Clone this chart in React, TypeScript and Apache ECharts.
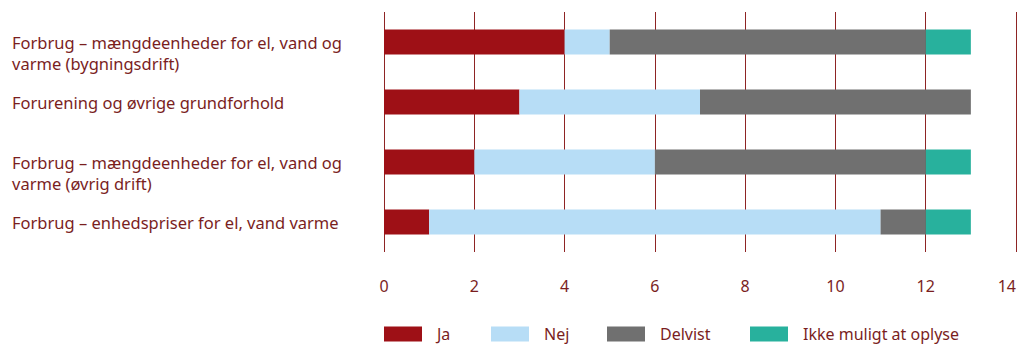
import React, { useEffect, useRef } from "react";
import * as echarts from "echarts";

const categories = [
  "Forbrug – mængdeenheder for el, vand og varme (bygningsdrift)",
  "Forurening og øvrige grundforhold",
  "Forbrug – mængdeenheder for el, vand og varme (øvrig drift)",
  "Forbrug – enhedspriser for el, vand varme",
];
const seriesNames = ["Ja", "Nej", "Delvist", "Ikke muligt at oplyse"];
const jaValues = [4, 3, 2, 1];
const nejValues = [1, 4, 4, 10];
const delvistValues = [7, 6, 6, 1];
const ikkeValues = [1, 0, 1, 1];
const xTicks = { min: 0, max: 14, interval: 2 };

const colors = ["#9E1016", "#B7DDF6", "#707070", "#28B19D"];
const textColor = "#7A1E1E";
const gridColor = "#8E2424";
const fontFamily = "'Noto Sans', sans-serif";

export default function App() {
  const ref = useRef<HTMLDivElement>(null);
  useEffect(() => {
    document.body.style.margin = "0";
    if (!ref.current) return;
    const chart = echarts.init(ref.current, null, { renderer: "svg" });
    const values = [jaValues, nejValues, delvistValues, ikkeValues];
    const legendLefts = [384, 491, 607, 750];
    chart.setOption({
      animation: false,
      textStyle: { fontFamily },
      grid: { left: 384, width: 632, top: 12, height: 240, outerBoundsMode: "none", containLabel: false },
      legend: seriesNames.map((n, i) => ({
        data: [n],
        left: legendLefts[i],
        top: 326,
        padding: 0,
        itemWidth: 38,
        itemHeight: 15,
        icon: "rect",
        textStyle: { color: textColor, fontSize: 16, fontFamily, padding: [0, 0, 0, 10] },
        selectedMode: false,
      })),
      xAxis: {
        type: "value",
        min: xTicks.min,
        max: xTicks.max,
        interval: xTicks.interval,
        axisLine: { show: false },
        axisTick: { show: false },
        splitLine: { show: true, lineStyle: { color: gridColor, width: 1 } },
        axisLabel: {
          color: textColor,
          fontSize: 16,
          fontFamily,
          margin: 26,
          alignMaxLabel: "right",
          padding: [0, 0, 0, 0],
        },
      },
      yAxis: {
        type: "category",
        inverse: true,
        data: categories,
        axisLine: { show: false },
        axisTick: { show: false },
        axisLabel: {
          align: "left",
          margin: 372,
          color: textColor,
          fontSize: 16.5,
          fontFamily,
          lineHeight: 21,
          width: 350,
          overflow: "break",
          verticalAlign: "top",
          padding: [-10, 0, 0, 0],
        },
      },
      series: seriesNames.map((n, i) => ({
        name: n,
        type: "bar",
        stack: "total",
        barWidth: 25,
        data: values[i],
        itemStyle: { color: colors[i] },
      })),
    });
    return () => chart.dispose();
  }, []);
  return <div ref={ref} style={{ width: 1022, height: 345 }} />;
}
